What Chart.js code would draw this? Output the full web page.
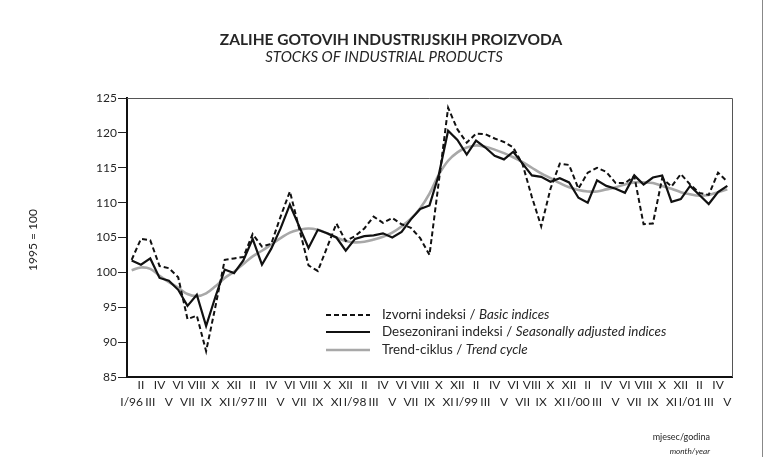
<!DOCTYPE html>
<html>
<head>
<meta charset="utf-8">
<title>Zalihe gotovih industrijskih proizvoda</title>
<script src="https://cdn.jsdelivr.net/npm/chart.js@4.4.1/dist/chart.umd.min.js"></script>
<style>
  body { margin: 0; background: #fff; }
  #wrap { width: 770px; height: 457px; }
</style>
</head>
<body>
<div id="wrap"><canvas id="stocksChart" width="770" height="457"></canvas></div>
<script>
// month names and years for the x axis (I/96 .. V/01)
const romanMonths = ['I', 'II', 'III', 'IV', 'V', 'VI', 'VII', 'VIII', 'IX', 'X', 'XI', 'XII'];
const yearLabels = ['96', '97', '98', '99', '00', '01'];
const yTicks = [85, 90, 95, 100, 105, 110, 115, 120, 125];

// Izvorni indeksi / Basic indices
const basicIdx = [101.8, 104.8, 104.6, 100.9, 100.6, 99.3, 93.3, 93.8, 88.7, 95.1, 101.8, 102.0,
  102.2, 105.5, 103.7, 104.1, 108.0, 111.6, 106.3, 101.0, 100.2, 103.6, 107.0, 104.5,
  105.2, 106.3, 108.0, 107.1, 107.8, 106.9, 106.4, 104.9, 102.5, 113.0, 123.6, 120.5,
  118.6, 119.9, 119.8, 119.2, 118.7, 117.9, 115.5, 110.8, 106.6, 112.0, 115.6, 115.4,
  112.0, 114.3, 115.0, 114.4, 112.8, 112.8, 113.8, 106.9, 107.0, 113.5, 112.3, 114.1,
  112.6, 111.4, 111.1, 114.3, 113.0];

// Desezonirani indeksi / Seasonally adjusted indices
const adjustedIdx = [101.7, 101.1, 102.0, 99.2, 98.8, 97.5, 95.2, 96.8, 92.3, 96.5, 100.4, 99.9,
  101.7, 104.8, 101.1, 103.4, 106.3, 109.7, 106.6, 103.5, 106.1, 105.6, 105.0, 103.1,
  104.8, 105.2, 105.3, 105.6, 105.0, 105.8, 107.6, 109.1, 109.6, 114.0, 120.3, 119.0,
  116.9, 118.9, 117.9, 116.7, 116.2, 117.3, 115.6, 113.9, 113.7, 113.0, 113.5, 112.9,
  110.7, 110.0, 113.2, 112.4, 112.0, 111.4, 113.9, 112.6, 113.6, 113.9, 110.1, 110.5,
  112.4, 111.1, 109.8, 111.5, 112.4];

// Trend-ciklus / Trend cycle
const trendIdx = [100.3, 100.7, 100.5, 99.5, 98.6, 97.8, 96.9, 96.6, 97.0, 98.0, 99.2, 100.1,
  101.2, 102.3, 103.1, 104.0, 104.9, 105.7, 106.1, 106.3, 106.1, 105.6, 105.0, 104.5,
  104.3, 104.4, 104.7, 105.1, 105.7, 106.6, 107.7, 109.2, 111.3, 114.0, 116.0, 117.2,
  117.9, 118.2, 118.0, 117.6, 117.1, 116.5, 115.8, 115.0, 114.2, 113.5, 112.8, 112.2,
  111.8, 111.6, 111.6, 111.9, 112.2, 112.6, 112.9, 112.9, 112.8, 112.4, 112.0, 111.5,
  111.2, 111.0, 111.1, 111.5, 111.9];

// odd months go on the lower row (with the year at January), even months on the upper row
const monthLabels = basicIdx.map((v, i) => {
  const m = i % 12;
  const name = m === 0 ? romanMonths[0] + '/' + yearLabels[Math.floor(i / 12)] : romanMonths[m];
  return m % 2 === 0 ? ['', name] : [name, ''];
});

const FONT = 'Lato, "Open Sans", sans-serif';
const INK = '#262626';

const decor = {
  id: 'decor',
  afterDraw(chart) {
    const ctx = chart.ctx;
    const a = chart.chartArea;
    ctx.save();

    // thin frame on top and right of the plot
    ctx.strokeStyle = '#555';
    ctx.lineWidth = 1;
    ctx.beginPath();
    ctx.moveTo(a.left, a.top + 0.5);
    ctx.lineTo(a.right + 0.5, a.top + 0.5);
    ctx.lineTo(a.right + 0.5, a.bottom);
    ctx.stroke();

    // page edge on the right
    ctx.strokeStyle = '#888';
    ctx.beginPath();
    ctx.moveTo(762.5, 0);
    ctx.lineTo(762.5, 457);
    ctx.stroke();

    // titles
    ctx.fillStyle = INK;
    ctx.textAlign = 'center';
    ctx.textBaseline = 'middle';
    ctx.font = 'bold 15.5px ' + FONT;
    ctx.fillText('ZALIHE GOTOVIH INDUSTRIJSKIH PROIZVODA', 391, 40);
    ctx.font = 'italic 15px ' + FONT;
    ctx.fillText('STOCKS OF INDUSTRIAL PRODUCTS', 384, 57);

    // y axis title
    ctx.save();
    ctx.translate(33, 240);
    ctx.rotate(-Math.PI / 2);
    ctx.font = '12px ' + FONT;
    ctx.fillText('1995 = 100', 0, 0);
    ctx.restore();

    // footnote
    ctx.textAlign = 'right';
    ctx.font = '9px ' + FONT;
    ctx.fillText('mjesec/godina', 710, 437);
    ctx.font = 'italic 8.2px ' + FONT;
    ctx.fillText('month/year', 710, 451);

    // legend
    const rows = [
      { plain: 'Izvorni indeksi / ', ital: 'Basic indices', color: '#111', dash: [5, 3], width: 2 },
      { plain: 'Desezonirani indeksi / ', ital: 'Seasonally adjusted indices', color: '#111', dash: [], width: 2.2 },
      { plain: 'Trend-ciklus / ', ital: 'Trend cycle', color: '#a8a8a8', dash: [], width: 2.6 }
    ];
    const ys = [315, 332, 350];
    rows.forEach((r, k) => {
      const y = ys[k];
      ctx.strokeStyle = r.color;
      ctx.lineWidth = r.width;
      ctx.setLineDash(r.dash);
      ctx.beginPath();
      ctx.moveTo(326, y);
      ctx.lineTo(370, y);
      ctx.stroke();
      ctx.setLineDash([]);
      ctx.textAlign = 'left';
      ctx.fillStyle = INK;
      ctx.font = '13.4px ' + FONT;
      ctx.fillText(r.plain, 382, y);
      const w = ctx.measureText(r.plain).width;
      ctx.font = 'italic 13.4px ' + FONT;
      ctx.fillText(r.ital, 382 + w, y);
    });
    ctx.restore();
  }
};

new Chart(document.getElementById('stocksChart'), {
  type: 'line',
  data: {
    labels: monthLabels,
    datasets: [
      {
        label: 'Izvorni indeksi / Basic indices',
        data: basicIdx,
        borderColor: '#111',
        borderWidth: 2,
        borderDash: [5, 3],
        pointRadius: 0,
        tension: 0,
        order: 1
      },
      {
        label: 'Desezonirani indeksi / Seasonally adjusted indices',
        data: adjustedIdx,
        borderColor: '#111',
        borderWidth: 2.2,
        pointRadius: 0,
        tension: 0,
        order: 2
      },
      {
        label: 'Trend-ciklus / Trend cycle',
        data: trendIdx,
        borderColor: '#a8a8a8',
        borderWidth: 2.6,
        pointRadius: 0,
        tension: 0.4,
        order: 3
      }
    ]
  },
  options: {
    responsive: false,
    animation: false,
    devicePixelRatio: 1,
    layout: { padding: { top: 98, right: 38, left: 0, bottom: 0 } },
    plugins: {
      legend: { display: false },
      tooltip: { enabled: false }
    },
    scales: {
      x: {
        type: 'category',
        offset: true,
        grid: { drawOnChartArea: false, drawTicks: false },
        border: { color: '#111', width: 2 },
        ticks: {
          autoSkip: false,
          maxRotation: 0,
          minRotation: 0,
          padding: 0,
          color: INK,
          font: { family: FONT, size: 12, lineHeight: 1.42 }
        },
        afterFit(s) { s.height = 80; }
      },
      y: {
        min: 85,
        max: 125,
        afterBuildTicks(s) { s.ticks = yTicks.map(v => ({ value: v })); },
        grid: { drawOnChartArea: false, tickLength: 9, color: '#222', tickWidth: 1 },
        border: { color: '#111', width: 2 },
        ticks: {
          padding: 1,
          color: INK,
          font: { family: FONT, size: 12 }
        },
        afterFit(s) { s.width = 127; }
      }
    }
  },
  plugins: [decor]
});
</script>
</body>
</html>
